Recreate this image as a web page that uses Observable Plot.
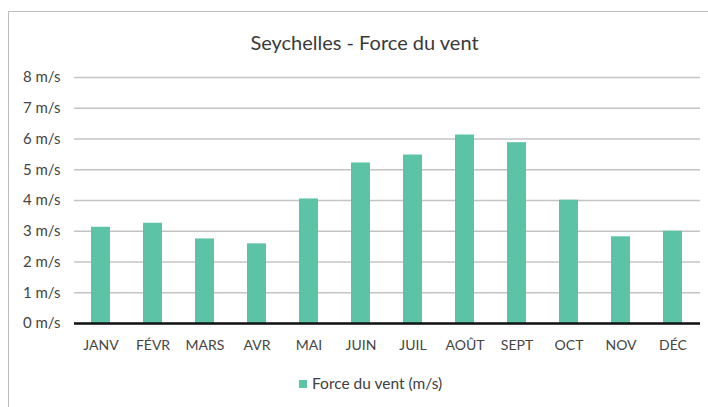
<!DOCTYPE html>
<html><head><meta charset="utf-8">
<script src="https://cdn.jsdelivr.net/npm/d3@7"></script>
<script src="https://cdn.jsdelivr.net/npm/@observablehq/plot@0.6"></script>
<style>
html,body{margin:0;padding:0}
body{width:708px;height:407px;overflow:hidden;background:#fff;font-family:Lato,"Open Sans",sans-serif;position:relative}
#frame{position:absolute;left:8px;top:11px;width:760px;height:460px;border:1.5px solid #bdbdbd;box-sizing:border-box}
#title{position:absolute;left:0;width:729px;top:26px;text-align:center;font-size:20px;color:#3a3a3a;line-height:32px;white-space:nowrap}
#chart{position:absolute;left:0;top:62px}
#legend{position:absolute;left:299px;top:372px;font-size:15.5px;color:#404040;line-height:22px;white-space:nowrap}
#legend .sw{display:inline-block;width:8px;height:8px;margin-right:5px;vertical-align:middle;position:relative;top:-1px}
</style>
</head><body>
<div id="frame"></div>
<div id="title"></div>
<div id="chart"></div>
<div id="legend"></div>
<script>
const titleText = "Seychelles - Force du vent";
const seriesName = "Force du vent (m/s)";
const months = ["JANV","FÉVR","MARS","AVR","MAI","JUIN","JUIL","AOÛT","SEPT","OCT","NOV","DÉC"];
const windSpeed = [3.13,3.26,2.75,2.59,4.05,5.22,5.48,6.13,5.88,4.01,2.82,3.0];
const yTicks = [0,1,2,3,4,5,6,7,8];
const barColor = "#5DC3A7";

const data = months.map((m,i)=>({month:m,value:windSpeed[i]}));

document.getElementById("title").textContent = titleText;
const leg = document.getElementById("legend");
const sw = document.createElement("span"); sw.className="sw"; sw.style.background=barColor;
leg.appendChild(sw); leg.appendChild(document.createTextNode(seriesName));

const chart = Plot.plot({
  width:708, height:300,
  marginLeft:74, marginRight:8, marginTop:15, marginBottom:39,
  style:{fontFamily:"Lato, 'Open Sans', sans-serif", fontSize:"15px", color:"#444", background:"transparent", overflow:"visible"},
  x:{domain:months, paddingInner:0.63, paddingOuter:0.315, label:null},
  y:{domain:[0,8], label:null},
  marks:[
    Plot.gridY(yTicks,{stroke:"#c4c4c4", strokeOpacity:1, strokeWidth:1.5}),
    Plot.barY(data,{x:"month", y:"value", fill:barColor}),
    Plot.ruleY([0],{stroke:"#111", strokeWidth:2.5}),
    Plot.axisY(yTicks,{tickSize:0, tickPadding:14, tickFormat:d=>d+" m/s", fontSize:15, fill:"#444"}),
    Plot.axisX({tickSize:0, tickPadding:17, fontSize:14, fill:"#444"})
  ]
});
document.getElementById("chart").appendChild(chart);
</script>
</body></html>
